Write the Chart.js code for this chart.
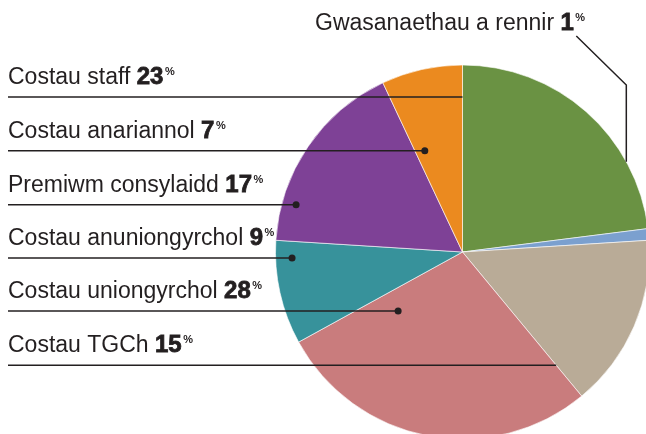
<!DOCTYPE html>
<html>
<head>
<meta charset="utf-8">
<script src="https://cdn.jsdelivr.net/npm/chart.js@4"></script>
<style>
  html, body { margin: 0; padding: 0; background: #fff; overflow: hidden; }
  #wrap { position: relative; width: 660px; height: 450px; }
</style>
</head>
<body>
<div id="wrap"><canvas id="pie"></canvas></div>
<script>
// Cost breakdown (percent), clockwise from 12 o'clock
const categories = ['Costau staff', 'Gwasanaethau a rennir', 'Costau TGCh', 'Costau uniongyrchol',
                    'Costau anuniongyrchol', 'Premiwm consylaidd', 'Costau anariannol'];
const shares = [23, 1, 15, 28, 9, 17, 7];
const sliceColors = ['#6a9243', '#7ba0cf', '#b9ab97', '#c97c7d', '#37929b', '#7e4196', '#eb8a1f'];

// where each leader line touches its slice: fraction along the slice angle, fraction of radius
const leaderSpots = [
    { a: 0.0, r: 0.829, dot: false },
    null,
    { a: 1.0, r: 0.786, dot: false },
    { a: 0.864, r: 0.467, dot: true },
    { a: 0.827, r: 0.912, dot: true },
    { a: 0.20, r: 0.925, dot: true },
    { a: 0.19, r: 0.578, dot: true }
];

const INK = '#231f20';
const FONT = '"Liberation Sans", Arial, sans-serif';

function drawLabel(ctx, x, baseline, name, value) {
    ctx.fillStyle = INK;
    ctx.textBaseline = 'alphabetic';
    ctx.textAlign = 'left';
    ctx.font = '23px ' + FONT;
    ctx.fillText(name + ' ', x, baseline);
    let w = ctx.measureText(name + ' ').width;
    // heavy figures
    ctx.font = 'bold 24px ' + FONT;
    ctx.lineWidth = 0.8;
    ctx.strokeText(String(value), x + w, baseline);
    ctx.fillText(String(value), x + w, baseline);
    w += ctx.measureText(String(value)).width;
    ctx.font = 'bold 11px ' + FONT;
    ctx.fillText('%', x + w + 1.5, baseline - 9);
    ctx.lineWidth = 1.5;
}

const calloutPlugin = {
    id: 'callouts',
    afterDraw(chart) {
        const ctx = chart.ctx;
        const arcs = chart.getDatasetMeta(0).data;
        ctx.save();
        ctx.strokeStyle = INK;
        ctx.lineWidth = 1.5;

        arcs.forEach((arc, i) => {
            const spot = leaderSpots[i];
            if (!spot) return;
            const ang = arc.startAngle + (arc.endAngle - arc.startAngle) * spot.a;
            const px = arc.x + Math.cos(ang) * arc.outerRadius * spot.r;
            const py = arc.y + Math.sin(ang) * arc.outerRadius * spot.r;
            ctx.beginPath();
            ctx.moveTo(8, py);
            ctx.lineTo(px, py);
            ctx.stroke();
            if (spot.dot) {
                ctx.fillStyle = INK;
                ctx.beginPath();
                ctx.arc(px, py, 3.5, 0, Math.PI * 2);
                ctx.fill();
            }
            drawLabel(ctx, 8, py - 13, categories[i], shares[i]);
        });

        // shared services: label above, elbow leader down to the rim
        const blue = arcs[1];
        const R = blue.outerRadius;
        const ex = blue.x + R * 0.876;
        const ey = blue.y - R * 0.893;
        const rimY = blue.y - Math.sqrt(R * R - (ex - blue.x) * (ex - blue.x));
        ctx.beginPath();
        ctx.moveTo(ex - 50, ey - 49);
        ctx.lineTo(ex, ey);
        ctx.lineTo(ex, rimY);
        ctx.stroke();
        drawLabel(ctx, 315, 30, categories[1], shares[1]);
        ctx.restore();
    }
};

new Chart(document.getElementById('pie'), {
    type: 'pie',
    data: {
        labels: categories,
        datasets: [{
            data: shares,
            backgroundColor: sliceColors,
            borderColor: 'rgba(255,255,255,0.6)',
            borderWidth: 1
        }]
    },
    options: {
        responsive: true,
        maintainAspectRatio: false,
        animation: false,
        radius: 187,
        layout: { padding: { left: 275.5, top: 65, right: 10.5, bottom: 11 } },
        plugins: {
            legend: { display: false },
            tooltip: { enabled: false }
        }
    },
    plugins: [calloutPlugin]
});
</script>
</body>
</html>
